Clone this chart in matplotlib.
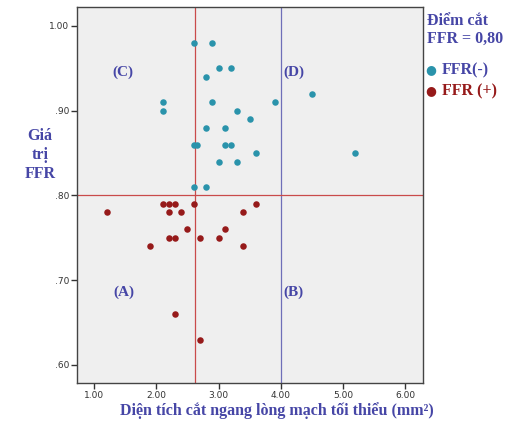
import matplotlib
matplotlib.use("Agg")
import matplotlib.pyplot as plt

# FFR(-) group (blue)
neg_x = [2.60, 2.90, 3.00, 3.20, 2.80, 2.10, 2.10, 2.90, 3.90, 4.50, 3.30, 3.50,
         2.80, 3.10, 2.60, 2.65, 3.10, 3.20, 3.60, 3.00, 3.30, 2.60, 2.80, 5.20]
neg_y = [0.98, 0.98, 0.95, 0.95, 0.94, 0.91, 0.90, 0.91, 0.91, 0.92, 0.90, 0.89,
         0.88, 0.88, 0.86, 0.86, 0.86, 0.86, 0.85, 0.84, 0.84, 0.81, 0.81, 0.85]
# FFR(+) group (red)
pos_x = [2.10, 2.20, 2.30, 2.60, 3.60, 1.20, 2.20, 2.40, 3.40, 2.50, 3.10,
         2.20, 2.30, 2.70, 3.00, 1.90, 3.40, 2.30, 2.70]
pos_y = [0.79, 0.79, 0.79, 0.79, 0.79, 0.78, 0.78, 0.78, 0.78, 0.76, 0.76,
         0.75, 0.75, 0.75, 0.75, 0.74, 0.74, 0.66, 0.63]

x_ticks = [1, 2, 3, 4, 5, 6]
x_ticklabels = ["1.00", "2.00", "3.00", "4.00", "5.00", "6.00"]
y_ticks = [0.6, 0.7, 0.8, 0.9, 1.0]
y_ticklabels = [".60", ".70", ".80", ".90", "1.00"]

cut_area = 2.62
cut_area2 = 4.0
cut_ffr = 0.80

blue = "#2a93ab"
red = "#961a1a"
txt = "#4646a6"
serif = ["Liberation Serif", "DejaVu Serif"]

fig = plt.figure(figsize=(5.09, 4.22), dpi=100)
ax = fig.add_axes([0.152, 0.0924, 0.679, 0.891])
ax.set_facecolor("#efefef")

ax.axvline(cut_area, color="#c94a4a", lw=0.9, zorder=1)
ax.axvline(cut_area2, color="#6f6fb8", lw=0.9, zorder=1)
ax.axhline(cut_ffr, color="#c94a4a", lw=0.9, zorder=1)

ax.scatter(neg_x, neg_y, s=22, color=blue, zorder=3, linewidths=0)
ax.scatter(pos_x, pos_y, s=22, color=red, zorder=3, linewidths=0)

ax.set_xlim(0.73, 6.285)
ax.set_ylim(0.5787, 1.0224)
ax.set_xticks(x_ticks)
ax.set_xticklabels(x_ticklabels)
ax.set_yticks(y_ticks)
ax.set_yticklabels(y_ticklabels)
ax.tick_params(labelsize=6.5, colors="#333333", length=4, width=1, pad=2)
for s in ax.spines.values():
    s.set_color("#444444")
    s.set_linewidth(1.0)

for lab, x, y in [("(C)", 1.46, 0.945), ("(D)", 4.21, 0.945),
                  ("(A)", 1.48, 0.686), ("(B)", 4.21, 0.686)]:
    ax.text(x, y, lab, color=txt, fontsize=11, fontweight="bold", family=serif,
            ha="center", va="center")

fig.text(40/509, 1 - 155/422, "Giá\ntrị\nFFR", color=txt, fontsize=11.5,
         fontweight="bold", family=serif, ha="center", va="center", linespacing=1.25)
fig.text(277/509, 1 - 415/422, "Diện tích cắt ngang lòng mạch tối thiểu (mm²)",
         color=txt, fontsize=11.5, fontweight="bold", family=serif, ha="center", va="baseline")

fig.text(427/509, 1 - 30/422, "Điểm cắt\nFFR = 0,80", color=txt, fontsize=11.5,
         fontweight="bold", family=serif, ha="left", va="center", linespacing=1.15)
fig.text(431/509, 1 - 70/422, "●", color=blue, fontsize=9, ha="center", va="center")
fig.text(442/509, 1 - 70/422, "FFR(-)", color=txt, fontsize=11.5,
         fontweight="bold", family=serif, ha="left", va="center")
fig.text(431/509, 1 - 91/422, "●", color=red, fontsize=9, ha="center", va="center")
fig.text(442/509, 1 - 91/422, "FFR (+)", color=red, fontsize=11.5,
         fontweight="bold", family=serif, ha="left", va="center")

fig.savefig("out.png", dpi=100)
